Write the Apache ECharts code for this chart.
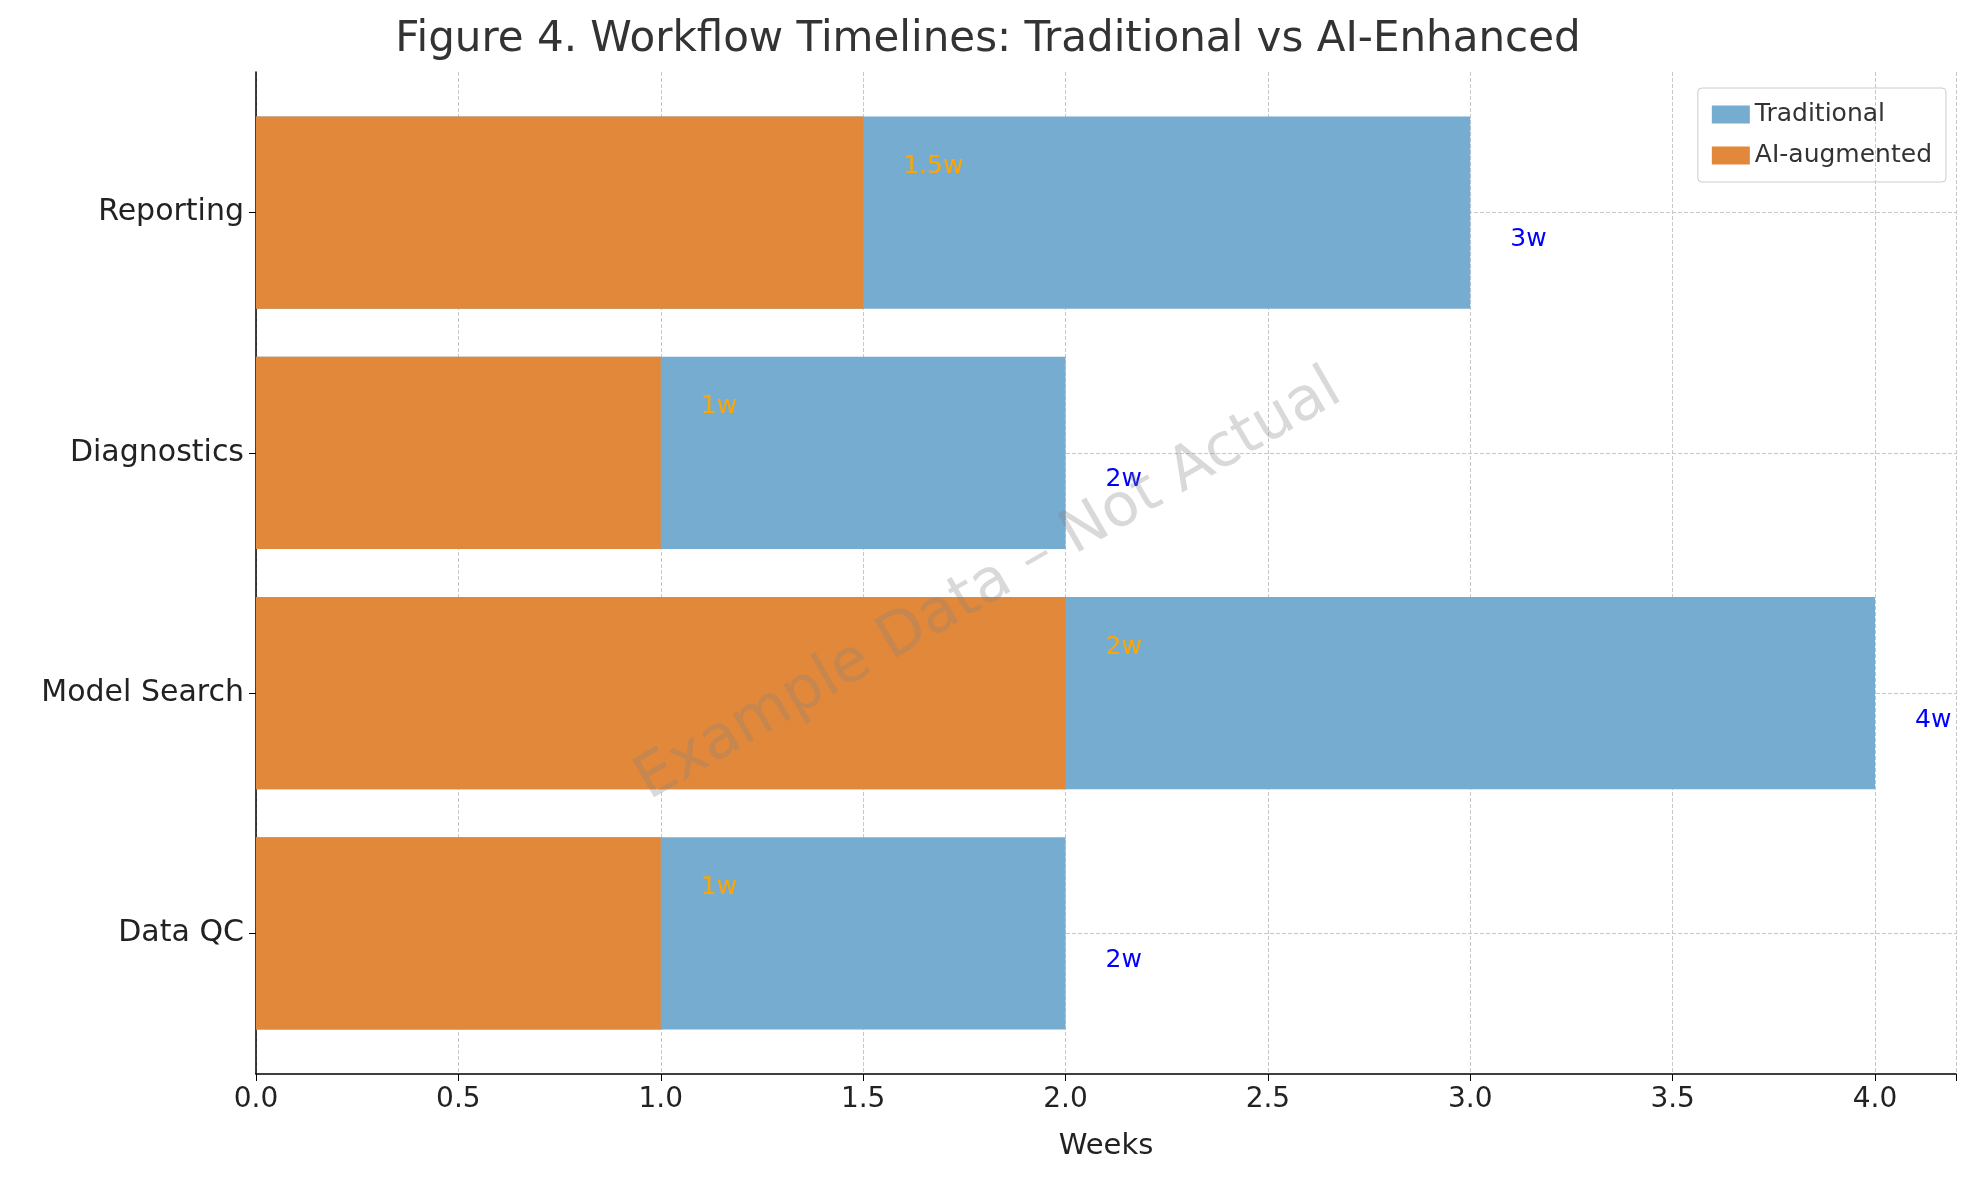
<!DOCTYPE html>
<html>
<head>
<meta charset="utf-8">
<script src="https://cdn.jsdelivr.net/npm/echarts@6/dist/echarts.min.js"></script>
<style>html,body{margin:0;padding:0;background:#fff}#chart{width:1976px;height:1181px}</style>
</head>
<body>
<div id="chart"></div>
<script>
// 数据
const categories = ["Data QC", "Model Search", "Diagnostics", "Reporting"]
const traditional = [2, 4, 2, 3]
const aiAugmented = [1, 2, 1, 1.5]
const xTicks = [0, 0.5, 1, 1.5, 2, 2.5, 3, 3.5, 4]

const chart = echarts.init(document.getElementById("chart"))
const font = "DejaVu Sans"
const xAxisBase = { type: "value", min: 0, max: 4.2, interval: 0.5 }

const option = {
  backgroundColor: "#fff",
  animation: false,
  textStyle: { fontFamily: font },
  title: {
    text: "Figure 4. Workflow Timelines: Traditional vs AI-Enhanced",
    left: "center",
    top: 14,
    textStyle: { fontFamily: font, fontSize: 42, fontWeight: "normal", color: "#333" }
  },
  legend: {
    orient: "vertical",
    right: 30,
    top: 88,
    icon: "rect",
    itemWidth: 38,
    itemHeight: 18,
    itemGap: 16,
    padding: [14, 14, 14, 14],
    borderColor: "#ccc",
    borderWidth: 1,
    borderRadius: 4,
    textStyle: { fontFamily: font, fontSize: 25, color: "#333" },
    data: ["Traditional", "AI-augmented"]
  },
  // grid 0: 坐标轴框线；grid 1: 条形图（上下留白）
  grid: [
    { left: 256, right: 20, top: 72, bottom: 107 },
    { left: 256, right: 20, top: 92.5, bottom: 127.5 }
  ],
  xAxis: [
    Object.assign({}, xAxisBase, {
      gridIndex: 0,
      name: "Weeks",
      nameLocation: "middle",
      nameGap: 58,
      nameTextStyle: { fontFamily: font, fontSize: 29, color: "#222" },
      axisLine: { show: true, lineStyle: { color: "#000", width: 1.5 } },
      axisTick: { show: true, length: 7, lineStyle: { color: "#000" } },
      axisLabel: {
        fontSize: 28, color: "#222", margin: 12,
        formatter: (v) => (xTicks.includes(v) ? v.toFixed(1) : "")
      },
      splitLine: { show: true, lineStyle: { type: "dashed", color: "#c8c8c8" } }
    }),
    Object.assign({}, xAxisBase, {
      gridIndex: 1,
      show: false,
      splitLine: { show: false }
    })
  ],
  yAxis: [
    {
      gridIndex: 0,
      type: "value",
      min: 0,
      max: 1,
      axisLine: { show: true, lineStyle: { color: "#000", width: 1.5 } },
      axisTick: { show: false },
      axisLabel: { show: false },
      splitLine: { show: false }
    },
    {
      gridIndex: 1,
      type: "category",
      data: categories,
      axisLine: { show: false },
      axisTick: { show: true, alignWithLabel: true, length: 7, lineStyle: { color: "#000" } },
      axisLabel: { fontSize: 30, color: "#222", margin: 12 },
      splitLine: { show: false }
    }
  ],
  series: [
    {
      name: "Traditional",
      type: "bar",
      xAxisIndex: 1,
      yAxisIndex: 1,
      data: traditional,
      barWidth: "80%",
      barGap: "-100%",
      z: 2,
      itemStyle: { color: "#77acd1" },
      label: {
        show: true, position: "right", distance: 40, offset: [0, 27],
        color: "#0000ff", fontSize: 25, formatter: (p) => p.value + "w"
      },
      markLine: {
        silent: true,
        symbol: "none",
        z: 1,
        label: { show: false },
        lineStyle: { type: "dashed", color: "#c8c8c8", width: 1 },
        data: categories.map((c) => ({ yAxis: c }))
      }
    },
    {
      name: "AI-augmented",
      type: "bar",
      xAxisIndex: 1,
      yAxisIndex: 1,
      data: aiAugmented,
      barWidth: "80%",
      barGap: "-100%",
      z: 3,
      itemStyle: { color: "#e2883a" },
      label: {
        show: true, position: "right", distance: 40, offset: [0, -46],
        color: "#ffa500", fontSize: 25, formatter: (p) => p.value + "w"
      }
    }
  ],
  graphic: [
    {
      type: "text",
      x: 989,
      y: 586,
      z: 100,
      zlevel: 1,
      rotation: Math.PI / 6,
      style: {
        text: "Example Data – Not Actual",
        font: "60px DejaVu Sans",
        fill: "rgba(128,128,128,0.3)",
        align: "center",
        verticalAlign: "middle"
      }
    }
  ]
}

chart.setOption(option)
</script>
</body>
</html>
